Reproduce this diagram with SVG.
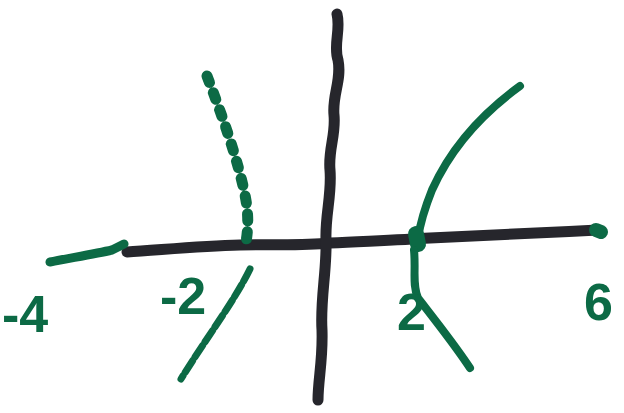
<svg xmlns="http://www.w3.org/2000/svg" width="624" height="413" viewBox="0 0 624 413">
<style>
.ax{fill:none;stroke:#26262c;stroke-width:11;stroke-linecap:round;stroke-linejoin:round}
.g{fill:none;stroke:#0c6a45;stroke-linecap:round;stroke-linejoin:round}
.lbl{fill:#0c6a45;font-family:"Liberation Sans",sans-serif;font-weight:bold;font-size:52px}
</style>
<rect width="624" height="413" fill="#ffffff"/>
<g id="axes">
<path class="ax" d="M127,252 C160,250 200,246 240,245 C270,244 300,246 330,243 C370,241 400,240 430,238 C480,236 540,233 598,230"/>
<path class="ax" d="M337,14 C341,30 333,45 338,60 C342,80 332,95 334,115 C336,135 328,150 330,170 C332,195 325,215 326,240 C327,270 320,300 322,330 C323,360 318,380 318,400"/>
</g>
<g id="curves">
<path class="g" stroke-width="9" d="M50,262 C70,258 95,254 112,250 L124,244"/>
<path class="g" stroke-width="14" d="M596,230 L601,232"/>
<path class="g" stroke-width="11" stroke-dasharray="7 11" d="M207,76 C222,115 238,160 245,195 C249,215 248,230 246,242"/>
<path class="g" stroke-width="7" stroke-dasharray="14 4" d="M250,269 C235,300 205,340 181,379"/>
<path class="g" stroke-width="8" d="M520,86 C480,115 450,150 432,190 C424,210 420,225 418,238"/>
<path class="g" stroke-width="16" d="M416,234 L418,244"/>
<path class="g" stroke-width="8" d="M414,250 C416,270 412,285 418,298 C435,320 455,345 470,368"/>
</g>
<g id="labels">
<text class="lbl" x="2" y="332">-4</text>
<text class="lbl" x="160" y="314">-2</text>
<text class="lbl" x="397" y="330">2</text>
<text class="lbl" x="584" y="320">6</text>
</g>
</svg>
